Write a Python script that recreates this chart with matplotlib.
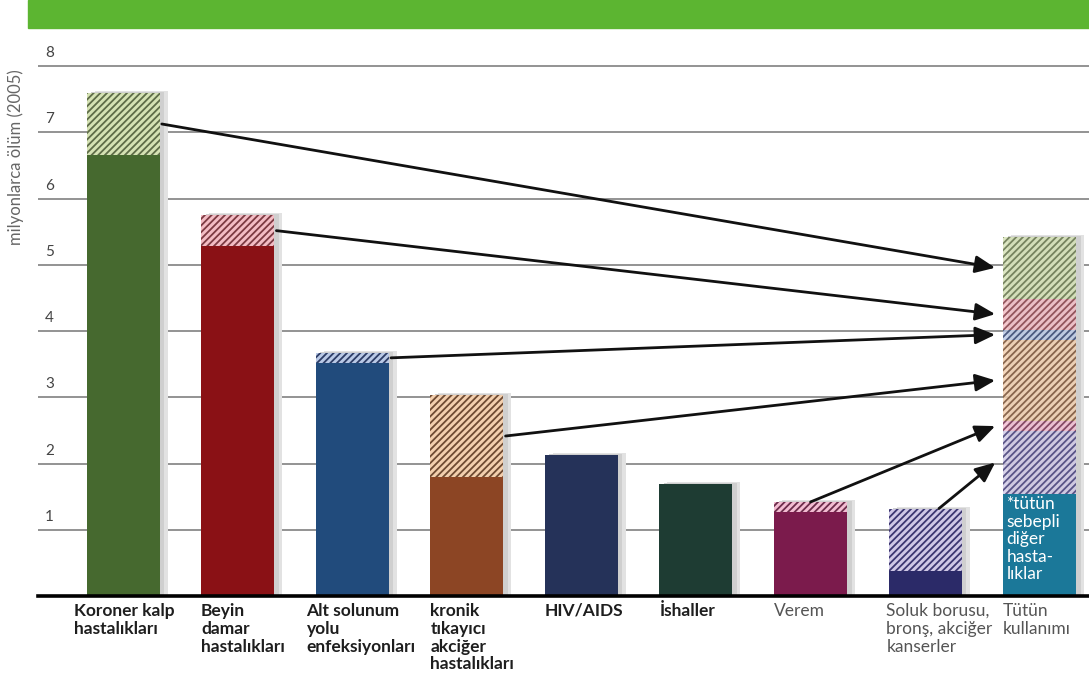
import matplotlib
matplotlib.use("Agg")
import matplotlib.pyplot as plt
from matplotlib.patches import Rectangle

# data (millions of deaths, 2005)
categories = ["Koroner kalp\nhastalıkları", "Beyin\ndamar\nhastalıkları",
              "Alt solunum\nyolu\nenfeksiyonları", "kronik\ntıkayıcı\nakciğer\nhastalıkları",
              "HIV/AIDS", "İshaller", "Verem", "Soluk borusu,\nbronş, akciğer\nkanserler",
              "Tütün\nkullanımı"]
bold_label = [True, True, True, True, True, True, False, False, False]
deaths_other = [6.66, 5.28, 3.52, 1.80, 2.13, 1.69, 1.27, 0.37]
deaths_tobacco = [0.93, 0.47, 0.15, 1.23, 0.0, 0.0, 0.15, 0.95]
tobacco_other = 1.54
tobacco_other_label = "*tütün\nsebepli\ndiğer\nhasta-\nlıklar"
yticks = [1, 2, 3, 4, 5, 6, 7, 8]

solid_colors = ["#46692f", "#8a1115", "#214b7c", "#8c4524", "#253259",
                "#1e3c33", "#7b1b4c", "#2b2a68"]
hatch_face = ["#d5e2b4", "#f3bcc4", "#b9c9e6", "#f3cfae", None, None, "#f3bcd2", "#cfc8e6"]
hatch_line = ["#5e6c48", "#7c3a42", "#2d3d66", "#6e4a32", None, None, "#6b2c4a", "#3b3670"]
tobacco_base_color = "#1b7899"

plt.rcParams["hatch.linewidth"] = 1.3
plt.rcParams["font.family"] = ["Lato", "DejaVu Sans"]

fig = plt.figure(figsize=(10.89, 6.90), dpi=100)
ax = fig.add_axes([38 / 1089, 94 / 690, 1051 / 1089, 536.6 / 690])
ax.set_xlim(-0.742, 8.43)
ax.set_ylim(0, 8.1)
ax.axis("off")

# green band at the top
fig.patches.append(Rectangle((28 / 1089, 662 / 690), 1, 28 / 690,
                             transform=fig.transFigure, color="#5cb531", zorder=0))

for v in yticks:
    ax.axhline(v, color="#8a8a8a", lw=1.3, zorder=1)
    ax.text(-0.64, v + 0.09, str(v), ha="center", va="bottom", fontsize=11,
            color="#444444")
ax.axhline(0, color="black", lw=2.6, zorder=6, clip_on=False)

ax.text(-0.94, 6.62, "milyonlarca ölüm (2005)", rotation=90, ha="center", va="center",
        fontsize=12, color="#666666", clip_on=False)

w = 0.637
n = len(deaths_other)
xs = list(range(n))

# soft shadow behind the bars
for i in xs:
    top = deaths_other[i] + deaths_tobacco[i]
    ax.bar(i + 0.07, top + 0.03, width=w, color="#e2e2e2", zorder=2, lw=0)
    ax.bar(i + 0.04, top + 0.015, width=w, color="#cfcfcf", zorder=2, lw=0)
tob_top = tobacco_other + sum(deaths_tobacco)
ax.bar(n + 0.07, tob_top + 0.03, width=w, color="#e2e2e2", zorder=2, lw=0)
ax.bar(n + 0.04, tob_top + 0.015, width=w, color="#cfcfcf", zorder=2, lw=0)

# main bars
for i in xs:
    ax.bar(i, deaths_other[i], width=w, color=solid_colors[i], lw=0, zorder=3)
    if deaths_tobacco[i] > 0:
        ax.bar(i, deaths_tobacco[i], bottom=deaths_other[i], width=w,
               facecolor=hatch_face[i], edgecolor=hatch_line[i], hatch="/////",
               lw=0, zorder=3)

# tobacco bar: other diseases + tobacco parts stacked
ax.bar(n, tobacco_other, width=w, color=tobacco_base_color, lw=0, zorder=3)
ax.text(n - w / 2 + 0.03, tobacco_other - 0.03, tobacco_other_label, ha="left", va="top",
        color="white", fontsize=12.5, linespacing=1.12, zorder=5)

order = [7, 6, 3, 2, 1, 0]
bottom = tobacco_other
seg_mid = {}
for i in order:
    ax.bar(n, deaths_tobacco[i], bottom=bottom, width=w,
           facecolor=hatch_face[i], edgecolor=hatch_line[i], hatch="/////",
           lw=0, zorder=3, alpha=0.8)
    seg_mid[i] = bottom + deaths_tobacco[i] / 2
    bottom += deaths_tobacco[i]

# arrows from each tobacco part to the tobacco bar
arrow_from_top = {6: 0.0, 7: 0.12}
for i in order:
    if i in arrow_from_top:
        start = (i + arrow_from_top[i], deaths_other[i] + deaths_tobacco[i])
    else:
        start = (i + w / 2 + 0.02, deaths_other[i] + deaths_tobacco[i] * 0.5)
    end = (n - w / 2 - 0.07, seg_mid[i])
    ax.annotate("", xy=end, xytext=start, zorder=7,
                arrowprops=dict(arrowstyle="-|>,head_length=0.8,head_width=0.35",
                                mutation_scale=15, lw=2.0, color="#111111",
                                shrinkA=0, shrinkB=0))

# category labels under the bars
label_dx = [-0.11, 0.0, -0.08, 0.0, 0.0, 0.0, 0.0, -0.02, 0.0]
for i, lab in enumerate(categories):
    ax.text(i - w / 2 + label_dx[i], -0.1, lab, ha="left", va="top",
            fontsize=12.5, linespacing=1.15,
            fontweight="bold" if bold_label[i] else "normal",
            color="#1e1e1e" if bold_label[i] else "#555555", clip_on=False)

fig.savefig("out.png", dpi=100, facecolor="white")
